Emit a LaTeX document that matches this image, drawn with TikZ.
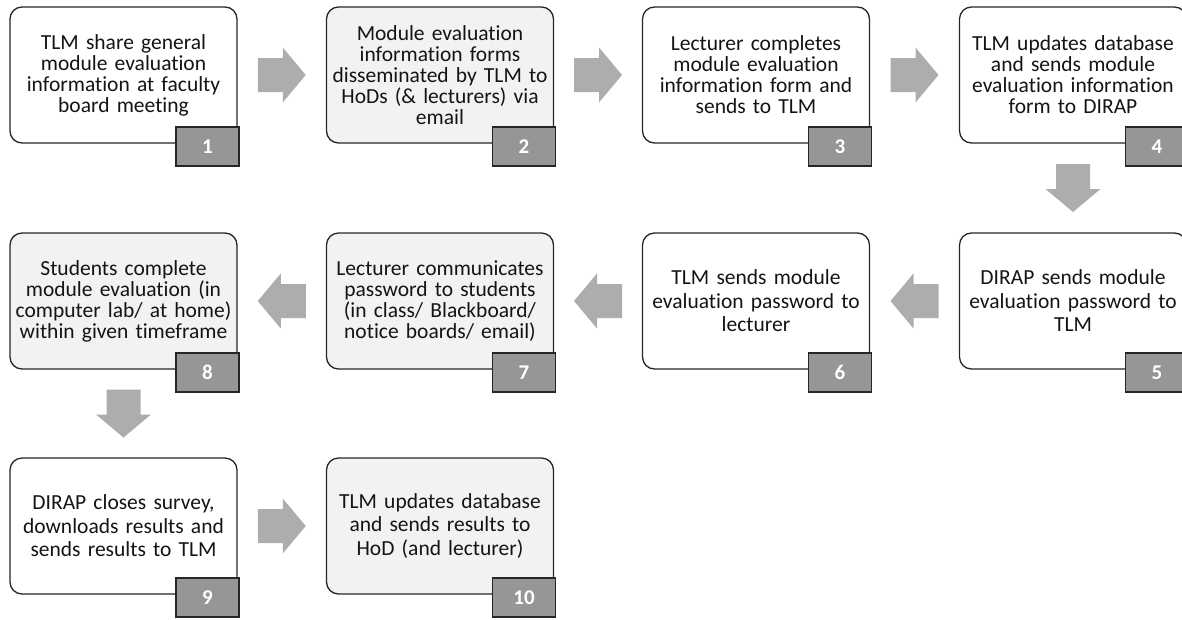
\documentclass[tikz,border=0pt]{standalone}
\usepackage{fontspec}
\setmainfont{Carlito}[Ligatures=NoCommon]
\usetikzlibrary{calc}

\definecolor{textdark}{HTML}{141414}
\definecolor{lineDark}{HTML}{262626}
\definecolor{paleFill}{HTML}{F2F2F2}
\definecolor{numFill}{HTML}{969696}
\definecolor{arrowgray}{HTML}{ADADAD}

\tikzset{
  stepbox/.style={draw=lineDark, line width=1.3pt, rounded corners=12pt,
    fill=white, minimum width=227pt, minimum height=136pt, inner sep=0pt,
    outer sep=0pt, text width=225pt, align=center, text=textdark,
    font=\fontsize{21.5}{21}\selectfont},
  loose/.style={font=\fontsize{21.5}{23.5}\selectfont},
  pale/.style={fill=paleFill},
  numbox/.style={draw=lineDark, line width=1.3pt, fill=numFill,
    minimum width=63pt, minimum height=39pt, inner sep=0pt, outer sep=0pt,
    anchor=north east, text=white, font=\fontsize{21}{21}\selectfont\bfseries},
  blockarrow/.pic={
    \fill[arrowgray] (-24,-17) -- (1,-17) -- (1,-27.5) -- (24,0)
      -- (1,27.5) -- (1,17) -- (-24,17) -- cycle;
  }
}

\begin{document}
\begin{tikzpicture}[x=1pt, y=-1pt]
\clip (0,0) rectangle (1182,619);

% process steps, row by row
\node[stepbox] (b1) at (123.5,75) {TLM share general\\module evaluation\\information at faculty\\board meeting};
\node[stepbox, pale] (b2) at (440,75) {Module evaluation\\information forms\\disseminated by TLM to\\HoDs (\& lecturers) via\\email};
\node[stepbox] (b3) at (756,75) {Lecturer completes\\module evaluation\\information form and\\sends to TLM};
\node[stepbox] (b4) at (1073,75) {TLM updates database\\and sends module\\evaluation information\\form to DIRAP};

\node[stepbox, loose] (b5) at (1073,301) {DIRAP sends module\\evaluation password to\\TLM};
\node[stepbox, loose] (b6) at (756,301) {TLM sends module\\evaluation password to\\lecturer};
\node[stepbox, pale] (b7) at (440,301) {Lecturer communicates\\password to students\\(in class/ Blackboard/\\notice boards/ email)};
\node[stepbox, pale] (b8) at (123.5,301) {Students complete\\module evaluation (in\\computer lab/ at home)\\within given timeframe};

\node[stepbox, loose] (b9) at (123.5,526) {DIRAP closes survey,\\downloads results and\\sends results to TLM};
\node[stepbox, pale, loose] (b10) at (440,526) {TLM updates database\\and sends results to\\HoD (and lecturer)};

% step numbers
\foreach \i in {1,...,10}
  \node[numbox] (n\i) at ($(b\i.south east)+(2,-16)$) {\i};

% block arrows between consecutive steps
\pic at ($(b1.east)!0.5!(b2.west)$) {blockarrow};
\pic at ($(b2.east)!0.5!(b3.west)$) {blockarrow};
\pic at ($(b3.east)!0.5!(b4.west)$) {blockarrow};
\pic[rotate=-90] at ($(b4.south)!0.5!(b5.north)$) {blockarrow};
\pic[rotate=180] at ($(b5.west)!0.5!(b6.east)$) {blockarrow};
\pic[rotate=180] at ($(b6.west)!0.5!(b7.east)$) {blockarrow};
\pic[rotate=180] at ($(b7.west)!0.5!(b8.east)$) {blockarrow};
\pic[rotate=-90] at ($(b8.south)!0.5!(b9.north)$) {blockarrow};
\pic at ($(b9.east)!0.5!(b10.west)$) {blockarrow};
\end{tikzpicture}
\end{document}
